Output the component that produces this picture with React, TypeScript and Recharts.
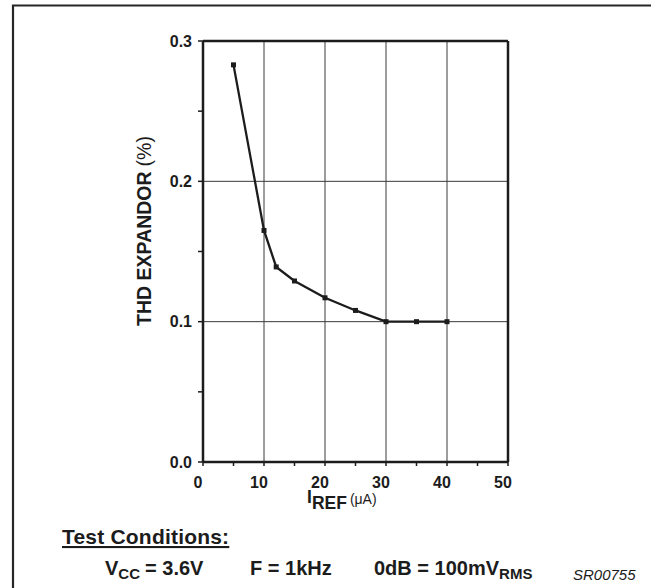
import React from 'react';
import { LineChart, Line, XAxis, YAxis, ReferenceLine } from 'recharts';

// I_REF (uA) and THD of the expandor (%)
const iRef = [5, 10, 12, 15, 20, 25, 30, 35, 40];
const thdExpandor = [0.283, 0.165, 0.139, 0.129, 0.117, 0.108, 0.1, 0.1, 0.1];

const xTicks = [0, 5, 10, 15, 20, 25, 30, 35, 40, 45, 50];
const yTicks = [0, 0.05, 0.1, 0.15, 0.2, 0.25, 0.3];
const xGrid = [10, 20, 30, 40];
const yGrid = [0.1, 0.2];

const data = iRef.map((x, i) => ({ x, thd: thdExpandor[i] }));

const FONT = '"Liberation Sans", Arial, Helvetica, sans-serif';
const INK = '#1c1c1c';

const SquareDot = (props: any) => {
  const { cx, cy } = props;
  if (cx == null || cy == null) return null;
  return <rect x={cx - 2.5} y={cy - 2.5} width={5} height={5} fill={INK} />;
};

const App: React.FC = () => {
  return (
    <div style={{ position: 'absolute', left: 0, top: 0, width: 654, height: 588, background: '#fff', overflow: 'hidden' }}>
      <LineChart
        width={654}
        height={588}
        data={data}
        margin={{ top: 41, right: 146, bottom: 96, left: 143 }}
      >
        <XAxis
          dataKey="x"
          type="number"
          domain={[0, 50]}
          ticks={xTicks}
          interval={0}
          height={30}
          tickSize={4}
          tickMargin={11}
          tickFormatter={(v: number) => (v % 10 === 0 ? String(v) : '')}
          axisLine={{ stroke: INK, strokeWidth: 2.5 }}
          tickLine={{ stroke: INK, strokeWidth: 1.5 }}
          tick={{ fontSize: 16, fontWeight: 'bold', fill: INK, fontFamily: FONT, dx: -5 }}
        />
        <YAxis
          type="number"
          domain={[0, 0.3]}
          ticks={yTicks}
          interval={0}
          width={60}
          tickSize={5}
          tickMargin={6}
          tickFormatter={(v: number) => (Math.round(v * 100) % 10 === 0 ? v.toFixed(1) : '')}
          axisLine={{ stroke: INK, strokeWidth: 2.5 }}
          tickLine={{ stroke: INK, strokeWidth: 1.5 }}
          tick={{ fontSize: 16, fontWeight: 'bold', fill: INK, fontFamily: FONT }}
        />
        {xGrid.map((v) => (
          <ReferenceLine key={'gx' + v} x={v} stroke="#3a3a3a" strokeWidth={1} />
        ))}
        {yGrid.map((v) => (
          <ReferenceLine key={'gy' + v} y={v} stroke="#3a3a3a" strokeWidth={1} />
        ))}
        <ReferenceLine y={0.3} stroke={INK} strokeWidth={2.5} />
        <ReferenceLine x={50} stroke={INK} strokeWidth={2.5} />
        <Line
          type="linear"
          dataKey="thd"
          stroke={INK}
          strokeWidth={2.3}
          dot={<SquareDot />}
          activeDot={false}
          isAnimationActive={false}
        />
      </LineChart>
      <svg
        width={654}
        height={588}
        style={{ position: 'absolute', left: 0, top: 0, pointerEvents: 'none' }}
        fontFamily={FONT}
        fill={INK}
      >
        <path d="M13 600 V5.5 H651" fill="none" stroke="#262626" strokeWidth={2.2} />
        <text transform="translate(151 231) rotate(-90)" textAnchor="middle" fontSize={19.5}>
          <tspan fontWeight="bold">THD EXPANDOR</tspan>
          <tspan dx={5}>(%)</tspan>
        </text>
        <text x={307} y={503} fontSize={17.5} fontWeight="bold">
          I
          <tspan dy={6}>REF</tspan>
          <tspan dy={-5} dx={3} fontSize={14} fontWeight="normal">(μA)</tspan>
        </text>
        <text x={62} y={544} fontSize={21} fontWeight="bold" textDecoration="underline" letterSpacing={0.2}>
          Test Conditions:
        </text>
        <text x={105} y={575} fontSize={20} fontWeight="bold">
          V<tspan dy={4} fontSize={15}>CC</tspan>
          <tspan dy={-4} dx={5}>= 3.6V</tspan>
        </text>
        <text x={250} y={575} fontSize={20} fontWeight="bold" xmlSpace="preserve">
          F = 1kHz
        </text>
        <text x={374} y={575} fontSize={20} fontWeight="bold" xmlSpace="preserve">
          <tspan>0dB = 100mV</tspan>
          <tspan dy={4} fontSize={15}>RMS</tspan>
        </text>
        <text x={573} y={580} fontSize={15} fontStyle="italic">
          SR00755
        </text>
      </svg>
    </div>
  );
};

export default App;
